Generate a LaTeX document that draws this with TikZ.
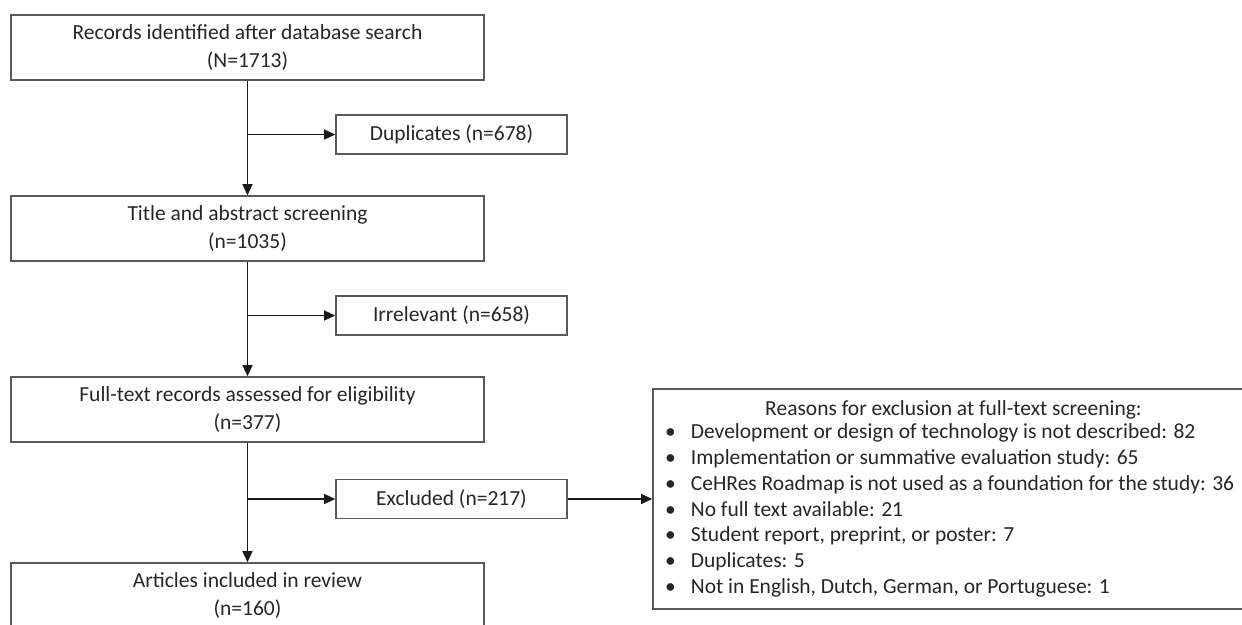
\documentclass[tikz,border=0pt]{standalone}
\usepackage{fontspec}
\setmainfont{Carlito}
\usetikzlibrary{arrows.meta}
\definecolor{boxline}{HTML}{5A5A5A}
\definecolor{txt}{HTML}{262626}
\definecolor{arr}{HTML}{1A1A1A}
\tikzset{
  mainbox/.style={draw=boxline, line width=1.6pt, minimum width=473pt, minimum height=65pt,
    align=center, text=txt, font=\fontsize{21.5}{27.5}\selectfont, inner sep=0pt},
  sidebox/.style={draw=boxline, line width=1.6pt, minimum width=231pt, minimum height=39pt,
    align=center, text=txt, font=\fontsize{21.5}{26}\selectfont, inner sep=0pt},
  reasonbox/.style={draw=boxline, line width=1.6pt, minimum width=617pt, minimum height=220pt, inner sep=0pt},
  flow/.style={draw=arr, line width=1.3pt, -{Triangle[length=11pt,width=10pt]}},
  reasontext/.style={text=txt, font=\fontsize{21.5}{25.8}\selectfont, inner sep=0pt}
}
\begin{document}
\begin{tikzpicture}[x=1pt,y=-1pt]
\useasboundingbox (0,0) rectangle (1242,624);
\node[mainbox] (rec) at (247.5,47.5) {Records identified after database search\\(N=1713)};
\node[mainbox] (tas) at (247.5,228.5) {Title and abstract screening\\(n=1035)};
\node[mainbox] (full) at (247.5,409.5) {Full-text records assessed for eligibility\\(n=377)};
\node[mainbox] (art) at (247.5,595.5) {Articles included in review\\(n=160)};
\node[sidebox] (dup) at (451.5,134.5) {Duplicates (n=678)};
\node[sidebox] (irr) at (451.5,315.5) {Irrelevant (n=658)};
\node[sidebox] (exc) at (451.5,499) {Excluded (n=217)};
\node[reasonbox] (rea) at (961.5,499) {};
\node[reasontext, anchor=base] (reatitle) at (953.5,415) {Reasons for exclusion at full-text screening:};
\node[reasontext, anchor=north west, align=left] (realist) at (665,420.5) {%
\begin{tabular}{@{}l@{\hspace{15pt}}l@{}}
\textbullet & Development or design of technology is not described: 82\\
\textbullet & Implementation or summative evaluation study: 65\\
\textbullet & CeHRes Roadmap is not used as a foundation for the study: 36\\
\textbullet & No full text available: 21\\
\textbullet & Student report, preprint, or poster: 7\\
\textbullet & Duplicates: 5\\
\textbullet & Not in English, Dutch, German, or Portuguese: 1
\end{tabular}};
\coordinate (b1) at (rec.south |- dup.west);
\coordinate (b2) at (tas.south |- irr.west);
\coordinate (b3) at (full.south |- exc.west);
\draw[flow] (rec.south) -- (tas.north);
\draw[flow] (tas.south) -- (full.north);
\draw[flow] (full.south) -- (art.north);
\draw[flow] (b1) -- (dup.west);
\draw[flow] (b2) -- (irr.west);
\draw[flow] (b3) -- (exc.west);
\draw[flow] (exc.east) -- (rea.west);
\end{tikzpicture}
\end{document}
